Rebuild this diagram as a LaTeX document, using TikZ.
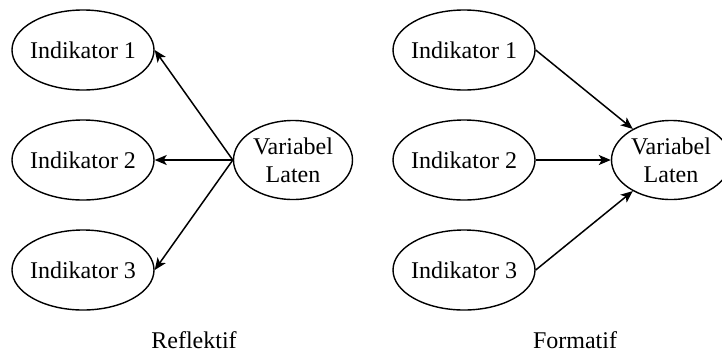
\documentclass[tikz,border=0pt]{standalone}
\usepackage{fontspec}
\setmainfont{Liberation Serif}
\newfontfamily\tnr{Liberation Serif}
\usetikzlibrary{shapes.geometric,arrows.meta}
\begin{document}
\begin{tikzpicture}[x=1pt,y=-1pt,
  every node/.style={font=\tnr\fontsize{24}{28}\selectfont},
  ind/.style={draw,ellipse,line width=1.4pt,minimum width=142pt,minimum height=80pt,inner xsep=-8pt,inner ysep=0pt},
  lat/.style={draw,ellipse,line width=1.4pt,minimum width=119pt,minimum height=79pt,inner xsep=-4pt,inner ysep=0pt,align=center},
  arr/.style={line width=1.5pt,-{Stealth[length=12pt,width=10pt,inset=3pt]}}]
\useasboundingbox (0,0) rectangle (722,354);
\fill[white] (0,0) rectangle (722,354);
% Reflektif
\node[ind] (a1) at (83,50) {Indikator 1};
\node[ind] (a2) at (83,160) {Indikator 2};
\node[ind] (a3) at (83,270) {Indikator 3};
\node[lat] (av) at (293,160) {Variabel\\Laten};
\draw[arr] (av.west) -- (a1.east);
\draw[arr] (av.west) -- (a2.east);
\draw[arr] (av.west) -- (a3.east);
\node (rl) at (194,340) {Reflektif};
% Formatif
\node[ind] (b1) at (464,50) {Indikator 1};
\node[ind] (b2) at (464,160) {Indikator 2};
\node[ind] (b3) at (464,270) {Indikator 3};
\node[lat] (bv) at (671,160) {Variabel\\Laten};
\draw[arr] (b1.east) -- (bv);
\draw[arr] (b2.east) -- (bv.west);
\draw[arr] (b3.east) -- (bv);
\node (fl) at (575,340) {Formatif};
\end{tikzpicture}
\end{document}
